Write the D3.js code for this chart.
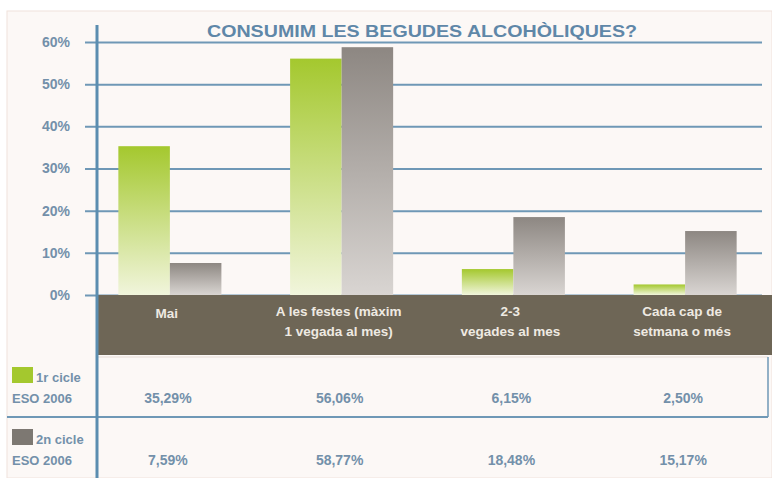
<!DOCTYPE html>
<html>
<head>
<meta charset="utf-8">
<script src="https://cdn.jsdelivr.net/npm/d3@7"></script>
<style>
  body { margin: 0; background: #fff; }
  svg text { font-family: "Liberation Sans", Arial, sans-serif; }
</style>
</head>
<body>
<div id="chart"></div>
<script>
// Data
const categories = ["Mai", "A les festes (màxim 1 vegada al mes)", "2-3 vegades al mes", "Cada cap de setmana o més"];
const categoryLines = [["Mai"], ["A les festes (màxim", "1 vegada al mes)"], ["2-3", "vegades al mes"], ["Cada cap de", "setmana o més"]];
const series = ["1r cicle ESO 2006", "2n cicle ESO 2006"];
const seriesLines = [["1r cicle", "ESO 2006"], ["2n cicle", "ESO 2006"]];
const cicle1 = [35.29, 56.06, 6.15, 2.50];
const cicle2 = [7.59, 58.77, 18.48, 15.17];
const yTicks = [0, 10, 20, 30, 40, 50, 60];
const title = "CONSUMIM LES BEGUDES ALCOHÒLIQUES?";

const width = 772;
const height = 478;

const svg = d3.select("#chart")
  .append("svg")
  .attr("width", width)
  .attr("height", height);

// Gradients for the bars
const defs = svg.append("defs");
const gradColors = [["#a4c82e", "#f1f5dc"], ["#8d8782", "#d9d5d2"]];
gradColors.forEach((c, i) => {
  const g = defs.append("linearGradient")
    .attr("id", "grad" + i)
    .attr("x1", 0).attr("y1", 0).attr("x2", 0).attr("y2", 1);
  g.append("stop").attr("offset", "0%").attr("stop-color", c[0]);
  g.append("stop").attr("offset", "100%").attr("stop-color", c[1]);
});

// Panel background
svg.append("rect")
  .attr("x", 7).attr("y", 11)
  .attr("width", width - 7).attr("height", height - 11)
  .attr("fill", "#fcf8f6")
  .attr("stroke", "#f0e2dc");

// Scales
const x0 = d3.scaleBand()
  .domain(categories)
  .range([84, 771])
  .paddingInner(0.4)
  .paddingOuter(0.2);

const x1 = d3.scaleBand()
  .domain(series)
  .range([0, x0.bandwidth()]);

const y = d3.scaleLinear()
  .domain([0, 60])
  .range([295, 42]);

const gridColor = "#6f98b6";
const textColor = "#7390aa";

// Gridlines and y axis
const yAxis = d3.axisLeft(y)
  .tickValues(yTicks)
  .tickSize(-(762 - 85))
  .tickFormat(d => d + "%");

const gy = svg.append("g")
  .attr("transform", "translate(85,0)")
  .call(yAxis);
gy.select(".domain").remove();
gy.selectAll(".tick line")
  .attr("stroke", gridColor)
  .attr("stroke-width", 2);
gy.selectAll(".tick text")
  .attr("x", -15)
  .attr("fill", textColor)
  .attr("font-size", 14)
  .attr("font-weight", "bold");

// Title
svg.append("text")
  .attr("x", 422)
  .attr("y", 37)
  .attr("text-anchor", "middle")
  .attr("font-size", 16)
  .attr("font-weight", "bold")
  .attr("fill", "#5f87a8")
  .attr("textLength", 430)
  .attr("lengthAdjust", "spacingAndGlyphs")
  .text(title);

// Bars
const rows = categories.map((c, i) => ({ cat: c, values: [cicle1[i], cicle2[i]] }));

const group = svg.append("g")
  .selectAll("g")
  .data(rows)
  .enter()
  .append("g")
  .attr("transform", d => `translate(${x0(d.cat)},0)`);

group.selectAll("rect")
  .data(d => d.values.map((v, i) => ({ s: series[i], v: v, i: i })))
  .enter()
  .append("rect")
  .attr("x", d => x1(d.s))
  .attr("y", d => y(d.v))
  .attr("width", x1.bandwidth())
  .attr("height", d => y(0) - y(d.v))
  .attr("fill", d => `url(#grad${d.i})`);

// Category band
svg.append("rect")
  .attr("x", 97).attr("y", 295)
  .attr("width", width - 97).attr("height", 60)
  .attr("fill", "#6e6656");

const catLabel = svg.append("g")
  .selectAll("text")
  .data(categories)
  .enter()
  .append("text")
  .attr("x", d => x0(d) + x0.bandwidth() / 2 - 3)
  .attr("y", (d, i) => categoryLines[i].length === 1 ? 318 : 316)
  .attr("text-anchor", "middle")
  .attr("font-size", 13.5)
  .attr("font-weight", "bold")
  .attr("fill", "#eeeae2");

catLabel.selectAll("tspan")
  .data((d, i) => categoryLines[i])
  .enter()
  .append("tspan")
  .attr("x", function() { return this.parentNode.getAttribute("x"); })
  .attr("dy", (d, i) => i === 0 ? 0 : 20)
  .text(d => d);

// Table
svg.append("line")
  .attr("x1", 7).attr("x2", 768)
  .attr("y1", 417).attr("y2", 417)
  .attr("stroke", gridColor).attr("stroke-width", 2);

svg.append("line")
  .attr("x1", 97).attr("x2", 768)
  .attr("y1", 357).attr("y2", 357)
  .attr("stroke", "#e6dcd6").attr("stroke-width", 1);

svg.append("line")
  .attr("x1", 768).attr("x2", 768)
  .attr("y1", 357).attr("y2", 417)
  .attr("stroke", gridColor).attr("stroke-width", 1.5);

// Y axis line (runs through the table)
svg.append("line")
  .attr("x1", 97).attr("x2", 97)
  .attr("y1", 25).attr("y2", height)
  .attr("stroke", "#5b8db0").attr("stroke-width", 3);

const seriesValues = [cicle1, cicle2];
const rowY = [403, 465];
const swatchColors = ["#a4c82e", "#7d7872"];

series.forEach((s, si) => {
  svg.append("rect")
    .attr("x", 12).attr("y", rowY[si] - 36)
    .attr("width", 21).attr("height", 16)
    .attr("fill", swatchColors[si]);

  svg.append("text")
    .attr("x", 36).attr("y", rowY[si] - 21)
    .attr("font-size", 13)
    .attr("font-weight", "bold")
    .attr("fill", textColor)
    .text(seriesLines[si][0]);

  svg.append("text")
    .attr("x", 12).attr("y", rowY[si])
    .attr("font-size", 13)
    .attr("font-weight", "bold")
    .attr("fill", textColor)
    .text(seriesLines[si][1]);

  svg.append("g")
    .selectAll("text")
    .data(categories)
    .enter()
    .append("text")
    .attr("x", d => x0(d) + x0.bandwidth() / 2 - 2)
    .attr("y", rowY[si])
    .attr("text-anchor", "middle")
    .attr("font-size", 14)
    .attr("font-weight", "bold")
    .attr("fill", textColor)
    .text((d, i) => seriesValues[si][i].toFixed(2).replace(".", ",") + "%");
});
</script>
</body>
</html>
